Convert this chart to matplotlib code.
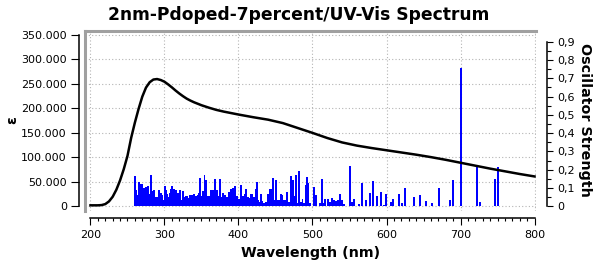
import matplotlib
matplotlib.use('Agg')
import matplotlib.pyplot as plt
from matplotlib.ticker import FuncFormatter, MultipleLocator, FixedLocator

# broadened absorption curve: wavelength (nm) / epsilon
curve_wl = [200, 210, 215, 220, 225, 230, 235, 240, 245, 250, 255, 260, 265, 270,
            275, 280, 285, 290, 295, 300, 305, 310, 315, 320, 325, 330, 335, 340,
            350, 360, 370, 380, 390, 400, 420, 440, 460, 480, 500, 520, 540, 560,
            580, 600, 620, 640, 660, 680, 700, 720, 740, 760, 780, 800]
curve_eps = [2000, 2000, 2500, 4500, 10000, 19500, 34000, 53000, 76000, 103000,
             140000, 171000, 199000, 224000, 242500, 253500, 259000, 260000, 258000,
             254500, 249000, 243000, 236500, 230500, 225000, 220000, 216000, 212500,
             206500, 201500, 197000, 193500, 190500, 187500, 182000, 177000, 170000,
             160000, 150000, 139500, 130500, 124000, 119000, 114500, 110000, 105500,
             100500, 95000, 89000, 83000, 77000, 71500, 66000, 61000]

# excitations: wavelength (nm) / oscillator strength
stick_wl = [
    259.5, 260.8, 262.2, 263.5, 264.9, 266.2, 267.6, 268.9, 270.3, 271.6,
    273.0, 274.3, 275.7, 277.0, 278.4, 279.7, 281.1, 282.4, 283.8, 285.1,
    286.5, 287.8, 289.2, 290.5, 291.9, 293.2, 294.7, 296.0, 297.4, 298.7,
    300.1, 301.4, 302.8, 304.1, 305.5, 306.8, 308.2, 309.5, 310.9, 312.2,
    313.6, 314.9, 316.3, 317.6, 319.0, 320.3, 321.7, 323.0, 324.4, 325.7,
    327.1, 328.4, 329.8, 331.1, 332.5, 333.8, 335.2, 336.5, 337.9, 339.2,
    340.6, 341.9, 343.3, 344.6, 346.0, 347.3, 348.7, 350.0, 351.4, 352.7,
    354.1, 355.4, 356.8, 358.1, 359.5, 360.8, 362.3, 363.6, 365.0, 366.3,
    367.7, 369.0, 370.4, 371.7, 373.1, 374.4, 375.8, 377.1, 378.5, 379.8,
    381.2, 382.5, 383.9, 385.2, 386.6, 387.9, 389.3, 390.6, 392.0, 393.3,
    394.7, 396.0, 397.3, 398.7, 400.0, 401.4, 402.7, 404.1, 405.4, 406.8,
    408.1, 409.5, 410.8, 412.2, 413.5, 414.9, 416.2, 417.6, 418.9, 420.3,
    421.6, 423.0, 424.3, 425.7, 427.0, 428.4, 429.7, 431.1, 432.4, 433.8,
    435.1, 436.6, 437.9, 439.3, 440.6, 442.0, 443.3, 444.7, 446.0, 447.4,
    448.7, 450.1, 451.4, 452.8, 454.1, 455.5, 456.8, 458.2, 459.5, 460.9,
    462.2, 463.6, 464.9, 466.3, 467.6, 469.0, 470.3, 471.7, 473.0, 474.4,
    475.7, 477.1, 478.4, 479.8, 481.1, 482.5, 483.8, 485.2, 486.5, 487.9,
    489.2, 490.6, 491.9, 493.3, 494.6, 496.0, 497.3, 501.4, 502.7, 504.2,
    505.5, 509.6, 510.9, 512.3, 513.6, 515.0, 516.3, 517.7, 520.4, 521.7,
    523.1, 524.4, 525.8, 527.1, 528.5, 529.8, 531.2, 532.5, 533.9, 535.2,
    536.6, 537.9, 539.3, 540.6, 542.0, 543.3, 550.1, 551.4, 552.7, 554.1,
    555.4, 556.8, 562.2, 563.5, 566.2, 567.6, 571.6, 573.0, 577.0, 578.5,
    581.2, 582.5, 586.6, 587.9, 592.0, 593.3, 596.0, 597.4, 598.7, 600.1,
    605.5, 606.8, 608.2, 609.5, 616.3, 617.6, 620.3, 621.7, 624.4, 625.7,
    636.5, 637.9, 644.6, 646.0, 652.9, 654.2, 660.9, 662.3, 670.3, 671.7,
    685.2, 686.6, 689.3, 690.6, 700.0, 701.4, 721.6, 723.0, 725.7, 727.0,
    746.0, 747.3, 750.0, 751.4]
stick_f = [
    .167, .167, .088, .064, .132, .132, .121, .121, .121, .100,
    .100, .106, .106, .110, .110, .070, .170, .170, .084, .088,
    .088, .051, .051, .051, .088, .088, .073, .073, .060, .033,
    .112, .112, .088, .070, .051, .073, .097, .110, .110, .097,
    .097, .088, .088, .073, .073, .088, .088, .033, .084, .084,
    .050, .055, .055, .055, .048, .062, .062, .062, .062, .068,
    .068, .058, .058, .062, .073, .155, .155, .055, .084, .084,
    .170, .143, .143, .055, .055, .055, .088, .088, .088, .088,
    .152, .152, .088, .088, .055, .148, .148, .050, .073, .073,
    .064, .064, .050, .050, .079, .079, .092, .092, .100, .100,
    .110, .110, .055, .055, .042, .042, .115, .115, .055, .055,
    .070, .097, .097, .050, .050, .044, .066, .066, .066, .050,
    .050, .097, .132, .132, .033, .024, .066, .066, .029, .018,
    .018, .024, .024, .066, .066, .097, .097, .092, .155, .155,
    .037, .143, .143, .033, .037, .037, .066, .066, .060, .033,
    .033, .033, .079, .079, .024, .024, .167, .167, .143, .143,
    .055, .170, .170, .018, .192, .192, .024, .024, .042, .018,
    .018, .115, .161, .161, .130, .018, .018, .106, .106, .060,
    .060, .018, .018, .148, .148, .018, .038, .038, .038, .038,
    .022, .022, .044, .044, .037, .037, .029, .029, .033, .033,
    .066, .066, .033, .033, .011, .011, .220, .220, .024, .024,
    .038, .038, .011, .011, .128, .128, .033, .033, .073, .073,
    .137, .137, .055, .055, .079, .079, .007, .007, .070, .070,
    .024, .024, .038, .038, .068, .068, .018, .018, .099, .099,
    .050, .050, .060, .060, .027, .027, .018, .018, .100, .100,
    .033, .033, .143, .143, .756, .756, .216, .216, .022, .022,
    .148, .148, .214, .214]

x_ticks = [200, 300, 400, 500, 600, 700, 800]
eps_ticks = [0, 50000, 100000, 150000, 200000, 250000, 300000, 350000]
f_ticks = [0, 0.1, 0.2, 0.3, 0.4, 0.5, 0.6, 0.7, 0.8, 0.9]
f_minor = [0.05, 0.15, 0.25, 0.35, 0.45, 0.55, 0.65, 0.75, 0.85]

title = '2nm-Pdoped-7percent/UV-Vis Spectrum'

W, H = 597, 262
fig = plt.figure(figsize=(W / 100, H / 100), dpi=100)
ax = fig.add_axes([85 / W, 1 - 211 / H, (536 - 85) / W, (211 - 30.5) / H])
ax2 = ax.twinx()   # sticks, right axis
ax3 = ax.twinx()   # curve drawn on top
ax3.axis('off')

ax.set_xlim(192.6, 802)
ax.set_ylim(-9600, 359200)
ax2.set_ylim(-0.0257, 0.9617)
ax3.set_ylim(ax.get_ylim())

ax.grid(True, which='major', color='#b4b4b4', linestyle=(0, (1, 2)), linewidth=0.8)
ax.set_axisbelow(True)

ax2.bar(stick_wl, stick_f, width=1.6, color='#0000ff', linewidth=0)
ax3.plot(curve_wl, curve_eps, color='black', linewidth=1.8, solid_joinstyle='round')

# spines
for s in ['top', 'right']:
    ax.spines[s].set_visible(False)
ax.spines['left'].set_position(('outward', 4))
ax.spines['left'].set_bounds(0, 350000)
ax.spines['bottom'].set_position(('outward', 5))
ax.spines['bottom'].set_bounds(200, 800)
for s in ['left', 'bottom']:
    ax.spines[s].set_linewidth(1.1)

ax2.spines['bottom'].set_visible(False)
for s in ['left', 'top']:
    ax2.spines[s].set_color('#a0a0a0')
    ax2.spines[s].set_linewidth(2.2)
ax2.spines['right'].set_position(('outward', 8))
ax2.spines['right'].set_bounds(0, 0.9)
ax2.spines['right'].set_linewidth(1.1)

# ticks
ax.set_xticks(x_ticks)
ax.xaxis.set_minor_locator(MultipleLocator(10))
ax.set_yticks(eps_ticks)
ax.yaxis.set_major_formatter(FuncFormatter(lambda v, p: f'{v:,.0f}'.replace(',', '.')))
ax2.set_yticks(f_ticks)
ax2.yaxis.set_minor_locator(FixedLocator(f_minor))
ax2.yaxis.set_major_formatter(FuncFormatter(
    lambda v, p: '0' if abs(v) < 1e-9 else f'{v:.1f}'.replace('.', ',')))

ax.tick_params(axis='x', which='major', length=5, width=0.8, pad=4, labelsize=8)
ax.tick_params(axis='x', which='minor', length=2.5, width=0.8)
ax.tick_params(axis='y', which='major', length=5.5, width=0.8, pad=3.5, labelsize=8)
ax2.tick_params(axis='y', which='major', length=4.5, width=0.8, pad=3, labelsize=8)
ax2.tick_params(axis='y', which='minor', length=3, width=0.8)

# texts
fig.text(0.5, 1 - 15 / H, title, ha='center', va='center', fontsize=12.3, fontweight='bold')
fig.text(311 / W, 1 - 252.5 / H, 'Wavelength (nm)', ha='center', va='center',
         fontsize=10.3, fontweight='bold')
fig.text(12 / W, 1 - 120 / H, 'ε', ha='center', va='center', rotation=90,
         fontsize=10.3, fontweight='bold')
fig.text(585 / W, 1 - 119.5 / H, 'Oscillator Strength', ha='center', va='center',
         rotation=270, fontsize=10.3, fontweight='bold')

fig.savefig('out.png', dpi=100)
